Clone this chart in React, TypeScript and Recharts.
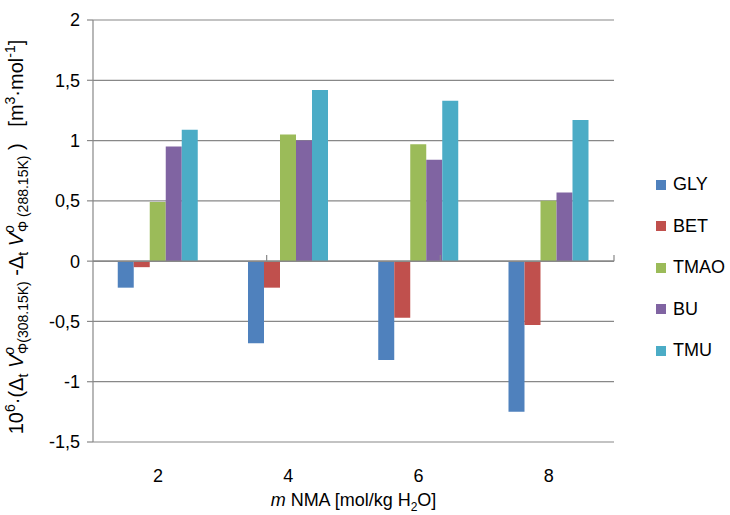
import React from 'react';
import { BarChart, Bar, XAxis, YAxis, CartesianGrid, ReferenceLine } from 'recharts';

const categories = ['2', '4', '6', '8'];
const GLY = [-0.22, -0.68, -0.82, -1.25];
const BET = [-0.05, -0.22, -0.47, -0.53];
const TMAO = [0.49, 1.05, 0.97, 0.5];
const BU = [0.95, 1.0, 0.84, 0.57];
const TMU = [1.09, 1.42, 1.33, 1.17];
const yTicks = [-1.5, -1, -0.5, 0, 0.5, 1, 1.5, 2];
const seriesNames = ['GLY', 'BET', 'TMAO', 'BU', 'TMU'];
const seriesValues = [GLY, BET, TMAO, BU, TMU];
const colors = ['#4F81BD', '#C0504D', '#9BBB59', '#8064A2', '#4BACC6'];
const boundaries = [1, 2, 3];

const data = categories.map((c, i) => {
  const row: any = { cat: c };
  seriesNames.forEach((s, k) => {
    row[s] = seriesValues[k][i];
  });
  return row;
});

const FONT = '"Liberation Sans", Arial, sans-serif';
const GRID = '#888888';
const TXT = '#000000';

const YLabel = (props: any) => {
  const vb = props.viewBox || { x: 0, y: 20, width: 93, height: 422 };
  const cx = vb.x + 23;
  const cy = vb.y + vb.height / 2 + 6;
  const S = 14;
  return (
    <text
      x={cx}
      y={cy}
      transform={`rotate(-90, ${cx}, ${cy})`}
      textAnchor="middle"
      fontFamily={FONT}
      fontSize={20}
      fill={TXT}
      style={{ whiteSpace: 'pre' }}
    >
      <tspan>10</tspan>
      <tspan fontSize={S} dy={-8}>6</tspan>
      <tspan dy={8}>·(Δ</tspan>
      <tspan fontSize={S} dy={5}>t</tspan>
      <tspan fontStyle="italic" dy={-5}> V</tspan>
      <tspan fontSize={S} fontStyle="italic" dy={-9}>o</tspan>
      <tspan fontSize={S} dy={14} dx={-7}>Φ(308.15K)</tspan>
      <tspan dy={-5}> -Δ</tspan>
      <tspan fontSize={S} dy={5}>t</tspan>
      <tspan fontStyle="italic" dy={-5}> V</tspan>
      <tspan fontSize={S} fontStyle="italic" dy={-9}>o</tspan>
      <tspan fontSize={S} dy={14} dx={-7}>Φ (288.15K)</tspan>
      <tspan dy={-5}>{' )   [m'}</tspan>
      <tspan fontSize={S} dy={-8}>3</tspan>
      <tspan dy={8}>·mol</tspan>
      <tspan fontSize={S} dy={-8}>-1</tspan>
      <tspan dy={8}>]</tspan>
    </text>
  );
};

const XLabel = (props: any) => {
  const vb = props.viewBox || { x: 93, y: 442, width: 521, height: 73 };
  const cx = vb.x + vb.width / 2;
  const cy = vb.y + 64;
  return (
    <text x={cx} y={cy} textAnchor="middle" fontFamily={FONT} fontSize={18} fill={TXT} style={{ whiteSpace: 'pre' }}>
      <tspan fontStyle="italic">m</tspan>
      <tspan> NMA [mol/kg H</tspan>
      <tspan fontSize={12} dy={5}>2</tspan>
      <tspan dy={-5}>O]</tspan>
    </text>
  );
};

const fmt = (v: number) => String(v).replace('.', ',');

export default function App() {
  return (
    <div style={{ position: 'absolute', left: 0, top: 0, width: 730, height: 515, background: '#fff' }}>
      <BarChart
        width={730}
        height={515}
        data={data}
        margin={{ top: 20, right: 116, bottom: 0, left: 0 }}
        barCategoryGap="19%"
        barGap={0}
      >
        <CartesianGrid vertical={false} stroke={GRID} strokeWidth={1.2} />
        <XAxis
          dataKey="cat"
          height={73}
          axisLine={false}
          tickLine={false}
          tickSize={0}
          tickMargin={27}
          tick={{ fontFamily: FONT, fontSize: 18, fill: TXT }}
          label={{ content: (p: any) => <XLabel {...p} /> }}
        />
        <XAxis xAxisId="n" type="number" domain={[0, 4]} hide />
        <YAxis
          width={93}
          domain={[-1.5, 2]}
          ticks={yTicks}
          interval={0}
          tickFormatter={fmt}
          axisLine={{ stroke: GRID, strokeWidth: 1.2 }}
          tickLine={{ stroke: GRID, strokeWidth: 1.2 }}
          tickSize={6}
          tickMargin={7}
          tick={{ fontFamily: FONT, fontSize: 18, fill: TXT }}
          label={{ content: (p: any) => <YLabel {...p} /> }}
        />
        {seriesNames.map((s, k) => (
          <Bar key={s} dataKey={s} fill={colors[k]} isAnimationActive={false} />
        ))}
        <ReferenceLine y={0} stroke={GRID} strokeWidth={1.5} />
        <ReferenceLine xAxisId="n" x={4} stroke={GRID} strokeWidth={1.2} />
        {boundaries.map((b) => (
          <ReferenceLine
            key={b}
            xAxisId="n"
            segment={[{ x: b, y: 0 }, { x: b, y: 0.05 }]}
            stroke={GRID}
            strokeWidth={1.2}
          />
        ))}
      </BarChart>
      <div style={{ position: 'absolute', left: 656, top: 164, fontFamily: FONT, fontSize: 18, color: TXT }}>
        {seriesNames.map((s, k) => (
          <div key={s} style={{ display: 'flex', alignItems: 'center', height: 41.5 }}>
            <span style={{ display: 'inline-block', width: 10, height: 10, background: colors[k], marginRight: 7 }} />
            <span>{s}</span>
          </div>
        ))}
      </div>
    </div>
  );
}
